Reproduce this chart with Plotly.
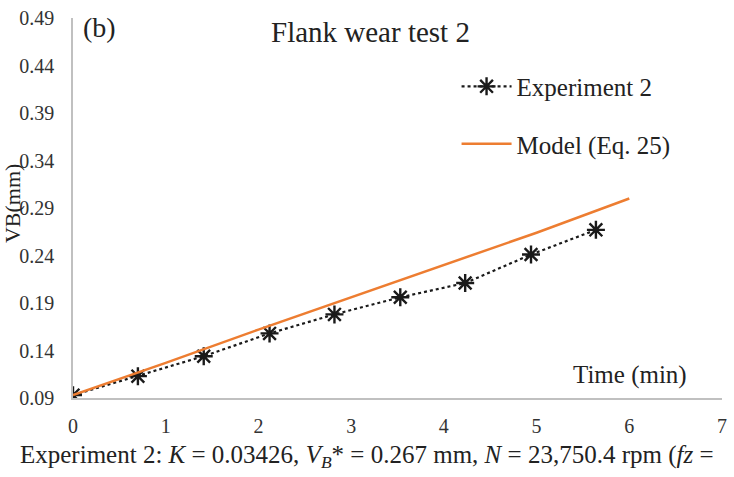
import plotly.graph_objects as go

exp_time = [0, 0.70, 1.41, 2.12, 2.82, 3.53, 4.23, 4.94, 5.64]
exp_vb = [0.093, 0.113, 0.134, 0.158, 0.178, 0.196, 0.211, 0.241, 0.267]
model_time = [0, 1, 2, 3, 4, 5, 6]
model_vb = [0.093, 0.127, 0.162, 0.196, 0.230, 0.264, 0.300]
x_ticks = [0, 1, 2, 3, 4, 5, 6, 7]
y_ticks = [0.09, 0.14, 0.19, 0.24, 0.29, 0.34, 0.39, 0.44, 0.49]

FONT = "Liberation Serif"
fig = go.Figure()
fig.add_trace(go.Scatter(
    x=exp_time, y=exp_vb, mode="lines+markers", name="Experiment 2",
    legendgroup="a",
    line=dict(color="#1a1a1a", width=2.2, dash="dot"),
    marker=dict(symbol="asterisk-open", size=15, line=dict(color="#1a1a1a", width=2.4)),
))
fig.add_trace(go.Scatter(
    x=model_time, y=model_vb, mode="lines", name="Model (Eq. 25)",
    legendgroup="b",
    line=dict(color="#ED7D31", width=2.5),
))

fig.update_layout(
    width=734, height=477,
    margin=dict(l=73, r=7, t=12, b=79),
    paper_bgcolor="white", plot_bgcolor="white",
    font=dict(family=FONT, color="#333333"),
    showlegend=True,
    legend=dict(x=0.591, y=0.88, xanchor="left", yanchor="top",
                font=dict(family=FONT, size=25, color="#222222"),
                tracegroupgap=22, bgcolor="rgba(0,0,0,0)", itemwidth=50),
    xaxis=dict(range=[0, 7], tickvals=x_ticks, ticktext=[str(v) for v in x_ticks],
               showgrid=False, zeroline=False, showline=True, linecolor="#c0c0c0",
               linewidth=1.5, ticks="outside", ticklen=9, tickcolor="rgba(0,0,0,0)",
               tickfont=dict(family=FONT, size=20, color="#333333")),
    yaxis=dict(range=[0.09, 0.49], tickvals=y_ticks, ticktext=[f"{v:.2f}" for v in y_ticks],
               showgrid=False, zeroline=False, showline=True, linecolor="#c0c0c0",
               linewidth=1.5, ticks="outside", ticklen=13, tickcolor="rgba(0,0,0,0)",
               tickfont=dict(family=FONT, size=20, color="#333333")),
)

fig.add_annotation(text="(b)", xref="paper", yref="paper", x=0.013, y=0.975,
                   xanchor="left", yanchor="middle", showarrow=False,
                   font=dict(family=FONT, size=28, color="#222222"))
fig.add_annotation(text="Flank wear test 2", xref="paper", yref="paper", x=0.458, y=0.963,
                   xanchor="center", yanchor="middle", showarrow=False,
                   font=dict(family=FONT, size=29, color="#222222"))
fig.add_annotation(text="Time (min)", xref="paper", yref="paper", x=0.859, y=0.06,
                   xanchor="center", yanchor="middle", showarrow=False,
                   font=dict(family=FONT, size=25, color="#222222"))
fig.add_annotation(text="VB(mm)", xref="paper", yref="paper", x=-0.094, y=0.513,
                   xanchor="center", yanchor="middle", showarrow=False, textangle=-90,
                   font=dict(family=FONT, size=22, color="#222222"))
fig.add_annotation(
    text="Experiment 2: <i>K</i> = 0.03426, <i>V<sub>B</sub></i>* = 0.267 mm, <i>N</i> = 23,750.4 rpm (<i>fz</i> =",
    xref="paper", yref="paper", x=-0.084, y=-0.155, xanchor="left", yanchor="middle",
    showarrow=False, font=dict(family=FONT, size=25, color="#222222"))

fig.write_html("out.html")
